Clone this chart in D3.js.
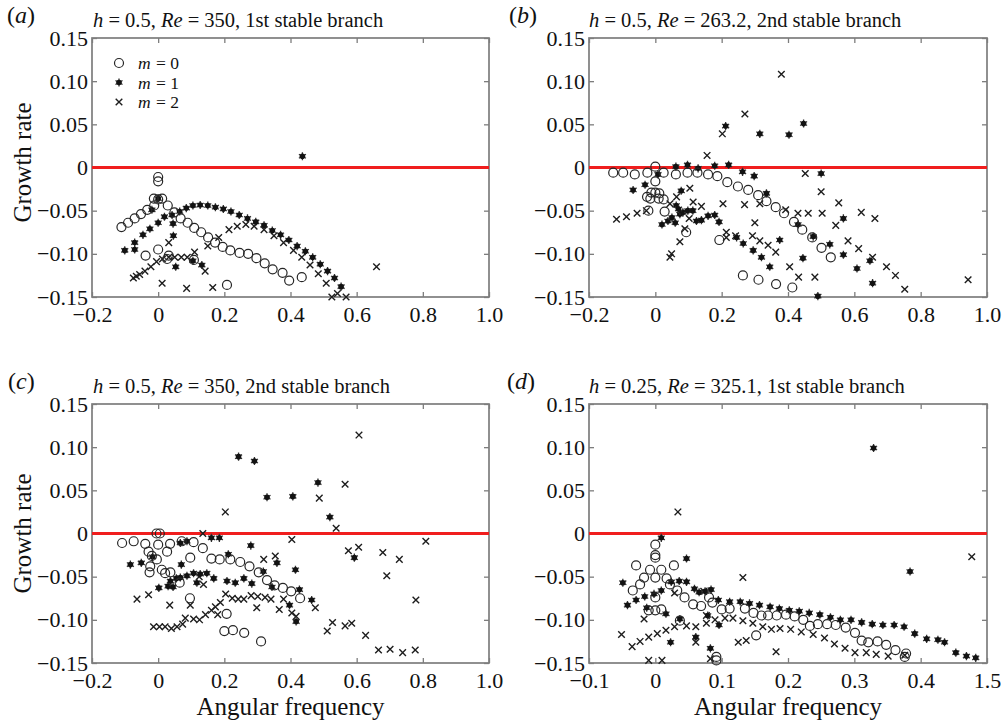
<!DOCTYPE html>
<html>
<head>
<meta charset="utf-8">
<script src="https://cdn.jsdelivr.net/npm/d3@7"></script>
<style>
  body { margin: 0; background: #fff; }
  svg { display: block; }
  text { font-family: "Liberation Serif", "Times New Roman", serif; fill: #111; }
</style>
</head>
<body>
<svg id="fig" width="1003" height="726"></svg>
<script>
// ---- growth rate vs angular frequency, modes m = 0, 1, 2 ----

// (a) h = 0.5, Re = 350, 1st stable branch
const a_m0 = [
  [0,-0.011],[0,-0.016],[-0.013,-0.036],[0,-0.037],[0.012,-0.036],[-0.012,-0.044],
  [-0.111,-0.069],[-0.091,-0.064],[-0.071,-0.059],[-0.052,-0.054],[-0.033,-0.049],
  [0.029,-0.044],[0.049,-0.052],[0.068,-0.059],[0.089,-0.064],[0.109,-0.070],[0.130,-0.075],
  [0.151,-0.081],[0.172,-0.087],[0.195,-0.092],[0.218,-0.096],[0.246,-0.099],[0.272,-0.100],
  [0.297,-0.105],[0.322,-0.111],[0.346,-0.118],[0.376,-0.122],[0.396,-0.131],[0.434,-0.127],
  [0.208,-0.136],[-0.038,-0.102],[0,-0.095],[0.032,-0.102],[0.027,-0.106],[0.108,-0.107]
];
const a_m1 = [
  [0.436,0.013],[0,-0.036],[-0.019,-0.049],
  [0.065,-0.051],[0.085,-0.047],[0.105,-0.044],[0.127,-0.0435],[0.150,-0.044],[0.173,-0.046],
  [0.197,-0.048],[0.220,-0.051],[0.245,-0.055],[0.270,-0.059],[0.295,-0.063],[0.320,-0.067],
  [0.345,-0.073],[0.370,-0.078],[0.395,-0.084],[0.420,-0.091],[0.445,-0.097],[0.467,-0.104],
  [0.490,-0.112],[0.512,-0.120],[0.533,-0.128],[0.553,-0.138],
  [-0.101,-0.096],[-0.071,-0.087],[-0.071,-0.095],[-0.046,-0.078],[-0.025,-0.071],[0,-0.064],
  [0.019,-0.057],[0.042,-0.055],[0.045,-0.065],[0.046,-0.079],[0.053,-0.115],[0.105,-0.108],[0.132,-0.113]
];
const a_m2 = [
  [-0.075,-0.128],[-0.066,-0.126],[-0.056,-0.124],[-0.040,-0.120],[-0.022,-0.115],[-0.005,-0.109],
  [0.013,-0.106],[0.032,-0.104],[0.050,-0.104],[0.070,-0.104],[0.088,-0.104],[0.110,-0.098],
  [0.032,-0.087],[0.142,-0.120],[0.150,-0.091],[0.183,-0.081],[0.214,-0.072],[0.239,-0.068],
  [0.265,-0.066],[0.290,-0.068],[0.320,-0.072],[0.350,-0.079],[0.379,-0.087],[0.409,-0.096],
  [0.434,-0.104],[0.459,-0.113],[0.484,-0.123],[0.508,-0.134],[0.525,-0.150],[0.542,-0.146],
  [0.568,-0.150],[0.660,-0.115],[0.012,-0.134],[0.086,-0.140],[0.165,-0.139]
];

// (b) h = 0.5, Re = 263.2, 2nd stable branch
const b_m0 = [
  [-0.127,-0.006],[-0.097,-0.006],[-0.062,-0.008],[-0.024,-0.006],[0,0.001],[0.025,-0.006],
  [0.062,-0.008],[0.097,-0.006],[0.127,-0.006],[0.159,-0.008],[0.187,-0.010],[0.217,-0.017],
  [0.249,-0.022],[0.280,-0.026],[0.310,-0.032],[0.335,-0.039],[0.363,-0.046],[0.388,-0.053],
  [0.418,-0.063],[0.443,-0.072],[0.473,-0.081],[0.501,-0.093],[0.529,-0.104],
  [0.264,-0.125],[0.311,-0.130],[0.364,-0.135],[0.413,-0.139],
  [0,-0.016],[-0.025,-0.034],[-0.012,-0.029],[0,-0.029],[0.012,-0.030],[0.025,-0.037],
  [0.028,-0.051],[-0.021,-0.050],[0.093,-0.075],[0.193,-0.084],[0.010,-0.036],[-0.015,-0.036]
];
const b_m1 = [
  [0.212,0.048],[0.315,0.039],[0.403,0.038],[0.447,0.051],
  [0.062,0.001],[0.097,0.003],[0.129,-0.001],[0.179,0.002],[0.221,0.003],[0.263,-0.005],
  [0.298,-0.010],[0.500,-0.007],[0.008,-0.008],
  [-0.067,-0.026],[-0.031,-0.020],[0.078,-0.027],[0.063,-0.044],[0.074,-0.054],[0.083,-0.052],
  [0.098,-0.050],[0.113,-0.050],[0.124,-0.062],[0.139,-0.061],[0.159,-0.056],[0.179,-0.055],
  [0.192,-0.063],[0.020,-0.066],[0.038,-0.062],[0.060,-0.064],[0.050,-0.058],[0.070,-0.048],
  [0.335,-0.030],[0.245,-0.081],[0.265,-0.088],[0.295,-0.096],[0.320,-0.104],[0.345,-0.115],
  [0.375,-0.084],[0.430,-0.066],[0.445,-0.105],[0.476,-0.080],[0.526,-0.089],[0.567,-0.059],
  [0.567,-0.101],[0.608,-0.117],[0.647,-0.108],[0.655,-0.134],[0.490,-0.149]
];
const b_m2 = [
  [0.380,0.108],[0.270,0.062],[0.202,0.039],[0.156,0.014],
  [-0.117,-0.060],[-0.087,-0.057],[-0.055,-0.053],[-0.027,-0.050],[0.044,-0.042],[0.064,-0.034],
  [0.104,-0.024],[0.114,-0.040],[0.139,-0.045],[0.074,-0.086],[0.049,-0.100],[0.044,-0.104],
  [0.089,-0.071],[0.102,-0.059],
  [0.204,-0.042],[0.214,-0.075],[0.214,-0.081],[0.242,-0.079],[0.269,-0.043],[0.293,-0.079],
  [0.300,-0.064],[0.315,-0.042],[0.315,-0.085],[0.340,-0.090],[0.363,-0.098],[0.393,-0.049],
  [0.405,-0.115],[0.430,-0.053],[0.432,-0.127],[0.452,-0.007],[0.461,-0.053],[0.481,-0.127],
  [0.500,-0.028],[0.503,-0.053],[0.544,-0.067],[0.553,-0.041],[0.581,-0.085],[0.613,-0.094],
  [0.621,-0.052],[0.655,-0.104],[0.662,-0.059],[0.697,-0.115],[0.724,-0.125],[0.752,-0.141],
  [0.943,-0.130]
];

// (c) h = 0.5, Re = 350, 2nd stable branch
const c_m0 = [
  [-0.109,-0.011],[-0.074,-0.009],[-0.039,-0.012],[-0.005,0],[0.005,0],[0,-0.013],
  [0.036,-0.012],[0.071,-0.009],[0.107,-0.010],[0.135,-0.017],
  [-0.029,-0.021],[-0.019,-0.026],[-0.004,-0.030],[0.027,-0.021],[-0.024,-0.038],[-0.026,-0.045],
  [0.011,-0.042],[0.021,-0.046],[0.037,-0.045],[0.065,-0.057],[0.097,-0.028],
  [0.161,-0.029],[0.186,-0.030],[0.218,-0.030],[0.248,-0.033],[0.276,-0.038],[0.304,-0.045],
  [0.329,-0.054],[0.352,-0.060],[0.377,-0.063],[0.402,-0.067],[0.429,-0.075],
  [0.096,-0.075],[0.207,-0.093],[0.200,-0.113],[0.226,-0.112],[0.260,-0.115],[0.311,-0.125]
];
const c_m1 = [
  [0.243,0.089],[0.291,0.084],[0.483,0.059],[0.407,0.043],[0.329,0.042],[0.519,0.019],
  [0.593,-0.028],[0.280,-0.014],[0.415,-0.042],[0.464,-0.077],[0.212,-0.024],
  [-0.084,-0.036],[-0.051,-0.034],[-0.017,-0.027],[0.002,-0.063],[0.030,-0.061],[0.037,-0.055],
  [0.055,-0.052],[0.067,-0.051],[0.087,-0.049],[0.107,-0.046],[0.127,-0.047],[0.147,-0.046],
  [0.168,-0.052],[0.208,-0.055],[0.233,-0.057],[0.259,-0.052],[0.283,-0.058],[0.318,-0.044],
  [0.344,-0.062],[0.359,-0.034],[0.397,-0.083],[0.417,-0.102],[0.427,-0.065],[0.117,-0.057],
  [0.070,-0.036],[0.067,-0.011],[0.087,-0.009],[0.161,-0.005],[0.185,-0.005],[0.045,-0.062]
];
const c_m2 = [
  [0.607,0.114],[0.565,0.057],[0.487,0.041],[0.203,0.025],[0.538,0.006],[0.404,-0.007],
  [0.809,-0.009],[0.575,-0.020],[0.606,-0.016],[0.679,-0.022],[0.729,-0.030],[0.691,-0.049],
  [0.779,-0.077],[0.511,-0.113],[0.527,-0.103],[0.565,-0.107],[0.585,-0.104],[0.627,-0.118],
  [0.666,-0.135],[0.701,-0.134],[0.739,-0.138],[0.777,-0.135],[0.475,-0.086],
  [-0.064,-0.076],[-0.029,-0.071],[0.035,-0.083],[0.097,-0.083],
  [-0.014,-0.108],[0.004,-0.108],[0.021,-0.108],[0.040,-0.110],[0.057,-0.108],[0.074,-0.105],
  [0.082,-0.098],[0.107,-0.099],[0.125,-0.100],[0.143,-0.094],[0.161,-0.089],[0.173,-0.085],
  [0.188,-0.080],[0.204,-0.070],[0.224,-0.075],[0.242,-0.076],[0.259,-0.076],[0.281,-0.072],
  [0.301,-0.073],[0.323,-0.074],[0.341,-0.076],[0.366,-0.088],[0.379,-0.076],[0.298,-0.086],
  [0.180,-0.094],[0.404,-0.092],[0.417,-0.096],[0.319,-0.030],[0.354,-0.026],[0.135,0.000],
  [0.124,-0.050],[0.137,-0.059]
];

// (d) h = 0.25, Re = 325.1, 1st stable branch
const d_m0 = [
  [0,-0.013],[0,-0.025],[0,-0.028],[-0.029,-0.037],[0.028,-0.037],[-0.008,-0.042],[0.009,-0.042],
  [-0.017,-0.051],[0,-0.051],[0.017,-0.052],[-0.023,-0.059],[-0.034,-0.066],[0,-0.074],
  [-0.010,-0.089],[0,-0.089],[0.009,-0.088],
  [0.022,-0.059],[0.033,-0.066],[0.044,-0.074],[0.057,-0.082],[0.069,-0.084],[0.081,-0.074],
  [0.086,-0.080],[0.100,-0.088],[0.112,-0.087],[0.135,-0.087],[0.148,-0.092],[0.160,-0.095],
  [0.170,-0.095],[0.183,-0.095],[0.197,-0.094],[0.210,-0.096],[0.223,-0.100],[0.233,-0.107],
  [0.245,-0.105],[0.259,-0.105],[0.272,-0.106],[0.287,-0.109],[0.301,-0.115],[0.311,-0.124],
  [0.321,-0.126],[0.335,-0.125],[0.348,-0.129],[0.362,-0.135],[0.378,-0.139],[0.376,-0.143],
  [0.152,-0.118],[0.037,-0.101],[0.092,-0.143],[0.092,-0.147]
];
const d_m1 = [
  [0.329,0.099],[0.384,-0.044],
  [0.009,-0.005],[0.047,-0.029],[-0.049,-0.057],[-0.042,-0.083],[-0.029,-0.077],[-0.016,-0.073],
  [-0.002,-0.070],[0.009,-0.066],[0.024,-0.056],[0.036,-0.055],[0.047,-0.056],[0.059,-0.064],
  [0.066,-0.068],[0.075,-0.067],[0.084,-0.065],[0.095,-0.077],[0.112,-0.079],[0.128,-0.079],
  [0.142,-0.081],[0.157,-0.083],[0.173,-0.085],[0.187,-0.087],[0.202,-0.089],[0.217,-0.090],
  [0.232,-0.092],[0.248,-0.094],[0.264,-0.097],[0.279,-0.100],[0.295,-0.100],[0.311,-0.103],
  [0.327,-0.105],[0.343,-0.106],[0.360,-0.106],[0.375,-0.108],[0.391,-0.116],[0.409,-0.122],
  [0.426,-0.123],[0.436,-0.126],[0.453,-0.138],[0.469,-0.142],[0.483,-0.144],
  [-0.013,-0.086],[0.016,-0.093],[0.023,-0.126],[0.037,-0.099],[0.061,-0.120],[0.083,-0.133],
  [0.096,-0.106],[0.079,-0.095]
];
const d_m2 = [
  [0.034,0.025],[0.132,-0.051],[0.477,-0.027],
  [-0.051,-0.117],[-0.035,-0.131],[-0.023,-0.125],[-0.010,-0.120],[0.003,-0.116],[0.016,-0.112],
  [0.029,-0.108],[0.047,-0.107],[0.061,-0.108],[0.077,-0.104],[0.090,-0.100],[0.105,-0.098],
  [0.117,-0.098],[0.132,-0.101],[0.147,-0.104],[0.162,-0.108],[0.175,-0.111],[0.188,-0.110],
  [0.204,-0.111],[0.220,-0.114],[0.238,-0.117],[0.255,-0.121],[0.270,-0.128],[0.286,-0.133],
  [0.301,-0.138],[0.318,-0.138],[0.333,-0.140],[0.351,-0.142],[0.376,-0.141],
  [-0.017,-0.099],[0.029,-0.069],[0.073,-0.067],[0.077,-0.095],[0.061,-0.126],[-0.010,-0.147],
  [0.010,-0.147],[0.083,-0.145],[0.125,-0.126],[0.137,-0.124],[0.182,-0.137]
];

// axis ticks and labels
const yTicks = [0.15, 0.10, 0.05, 0, -0.05, -0.10, -0.15];
const yTickLabels = ["0.15", "0.10", "0.05", "0", "\u22120.05", "\u22120.10", "\u22120.15"];
const xTicksWide = [-0.2, 0, 0.2, 0.4, 0.6, 0.8, 1.0];
const xTickLabelsWide = ["\u22120.2", "0", "0.2", "0.4", "0.6", "0.8", "1.0"];
const xTicksNarrow = [-0.1, 0, 0.1, 0.2, 0.3, 0.4, 0.5];
const xTickLabelsNarrow = ["\u22120.1", "0", "0.1", "0.2", "0.3", "0.4", "1.5"];

// panel headings
const panelLetters = ["a", "b", "c", "d"];
const panelH = ["0.5", "0.5", "0.5", "0.25"];
const panelRe = ["350", "263.2", "350", "325.1"];
const panelBranch = ["1st stable branch", "2nd stable branch", "2nd stable branch", "1st stable branch"];
const modeNames = ["0", "1", "2"];
const yAxisTitle = "Growth rate";
const xAxisTitle = "Angular frequency";

const svg = d3.select("#fig");
const BOX = "#7d7d7d";
const INK = "#1e1e1e";

// marker painters
const xSym = d3.symbol().type(d3.symbolX).size(30);
const starSym = d3.symbol().type(d3.symbolAsterisk).size(46);

function drawMarker(g, kind, px, py) {
  if (kind === 0) {
    g.append("circle").attr("cx", px).attr("cy", py).attr("r", 4.5)
      .attr("fill", "none").attr("stroke", "#262626").attr("stroke-width", 1.2);
  } else if (kind === 1) {
    g.append("path").attr("d", starSym()).attr("transform", `translate(${px},${py})`)
      .attr("fill", "none").attr("stroke", "#333").attr("stroke-width", 1.3);
    g.append("circle").attr("cx", px).attr("cy", py).attr("r", 2.8).attr("fill", "#121212");
  } else {
    g.append("path").attr("d", xSym()).attr("transform", `translate(${px},${py})`)
      .attr("fill", "none").attr("stroke", INK).attr("stroke-width", 1.4);
  }
}

const panels = [
  { box: [92, 38, 489, 297], xDom: [-0.2, 1.0], xt: xTicksWide, xl: xTickLabelsWide,
    series: [a_m0, a_m1, a_m2], ylab: true, xlab: false, legend: true, letterX: 7, titleX: 93 },
  { box: [589, 38, 987, 297], xDom: [-0.2, 1.0], xt: xTicksWide, xl: xTickLabelsWide,
    series: [b_m0, b_m1, b_m2], ylab: false, xlab: false, legend: false, letterX: 509, titleX: 589 },
  { box: [92, 404, 489, 663], xDom: [-0.2, 1.0], xt: xTicksWide, xl: xTickLabelsWide,
    series: [c_m0, c_m1, c_m2], ylab: true, xlab: true, legend: false, letterX: 8, titleX: 93 },
  { box: [589, 404, 987, 663], xDom: [-0.1, 0.5], xt: xTicksNarrow, xl: xTickLabelsNarrow,
    series: [d_m0, d_m1, d_m2], ylab: false, xlab: true, legend: false, letterX: 507, titleX: 589 }
];

panels.forEach((p, i) => {
  const [L, T, R, B] = p.box;
  const x = d3.scaleLinear().domain(p.xDom).range([L, R]);
  const y = d3.scaleLinear().domain([-0.15, 0.15]).range([B, T]);
  const g = svg.append("g");

  const styleAxis = (s, labelSize) => {
    s.select(".domain").remove();
    s.attr("font-family", null).attr("font-size", null);
    s.selectAll(".tick line").attr("stroke", BOX).attr("stroke-width", 1.3);
    s.selectAll(".tick text").style("font-size", labelSize + "px").attr("fill", "#111");
  };

  // tick marks pointing inward on all four sides
  g.append("g").attr("transform", `translate(0,${B})`)
    .call(d3.axisBottom(x).tickValues(p.xt).tickFormat((d, k) => p.xl[k]).tickSize(-5).tickPadding(9))
    .call(s => styleAxis(s, 22));
  g.append("g").attr("transform", `translate(0,${T})`)
    .call(d3.axisTop(x).tickValues(p.xt).tickFormat("").tickSize(-5))
    .call(s => styleAxis(s, 22));
  g.append("g").attr("transform", `translate(${L},0)`)
    .call(d3.axisLeft(y).tickValues(yTicks).tickFormat((d, k) => yTickLabels[k]).tickSize(-5).tickPadding(4))
    .call(s => styleAxis(s, 22));
  g.append("g").attr("transform", `translate(${R},0)`)
    .call(d3.axisRight(y).tickValues(yTicks).tickFormat("").tickSize(-5))
    .call(s => styleAxis(s, 22));

  // frame
  g.append("rect").attr("x", L).attr("y", T).attr("width", R - L).attr("height", B - T)
    .attr("fill", "none").attr("stroke", BOX).attr("stroke-width", 1.7);

  // zero growth line
  g.append("line").attr("x1", L).attr("x2", R).attr("y1", y(0)).attr("y2", y(0))
    .attr("stroke", "#f01e1e").attr("stroke-width", 3.2);

  // markers: m = 2, then m = 1, then m = 0
  const mk = g.append("g");
  [2, 1, 0].forEach(m => {
    p.series[m].forEach(([fx, gr]) => drawMarker(mk, m, x(fx), y(gr)));
  });

  // heading
  g.append("text").attr("x", p.letterX).attr("y", T - 15).style("font-size", "24px")
    .call(t => {
      t.append("tspan").text("(");
      t.append("tspan").attr("font-style", "italic").text(panelLetters[i]);
      t.append("tspan").text(")");
    });
  g.append("text").attr("x", p.titleX).attr("y", T - 11.5).style("font-size", "20.5px")
    .call(t => {
      t.append("tspan").attr("font-style", "italic").text("h");
      t.append("tspan").text(" = " + panelH[i] + ", ");
      t.append("tspan").attr("font-style", "italic").text("Re");
      t.append("tspan").text(" = " + panelRe[i] + ", " + panelBranch[i]);
    });

  if (p.ylab) {
    g.append("text").attr("transform", `translate(31,${(T + B) / 2 - (i === 0 ? 5 : 0)}) rotate(-90)`)
      .attr("text-anchor", "middle").style("font-size", "25px").text(yAxisTitle);
  }
  if (p.xlab) {
    g.append("text").attr("x", (L + R) / 2).attr("y", B + 52)
      .attr("text-anchor", "middle").style("font-size", "25px").text(xAxisTitle);
  }

  if (p.legend) {
    const lg = g.append("g");
    modeNames.forEach((nm, k) => {
      const ly = T + 25 + k * 19.5;
      drawMarker(lg, k, L + 27, ly);
      lg.append("text").attr("x", L + 46).attr("y", ly + 6).style("font-size", "17.5px")
        .attr("font-style", "italic").text("m");
      lg.append("text").attr("x", L + 64).attr("y", ly + 6).style("font-size", "17.5px")
        .text("= " + nm);
    });
  }
});
</script>
</body>
</html>
